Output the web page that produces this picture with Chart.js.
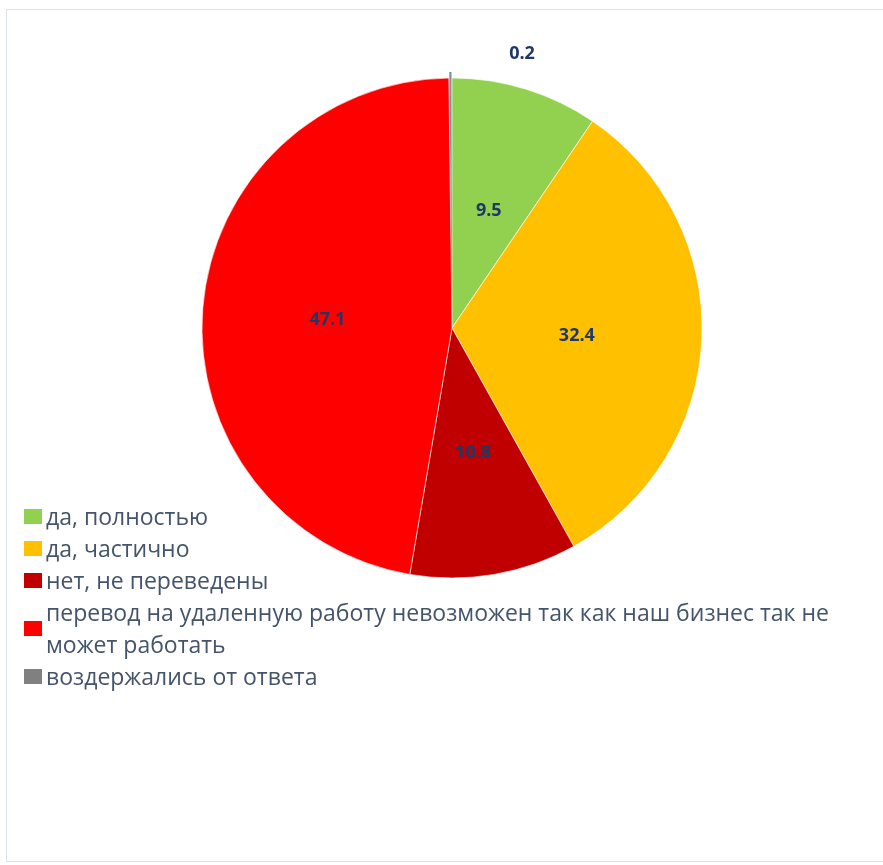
<!DOCTYPE html>
<html>
<head>
<meta charset="utf-8">
<script src="https://cdn.jsdelivr.net/npm/chart.js@4.4.1/dist/chart.umd.min.js"></script>
<style>
  html, body { margin: 0; padding: 0; background: #fff; }
  body { width: 883px; height: 865px; position: relative; overflow: hidden; }
  #frame {
    position: absolute; left: 6px; top: 9px; width: 890px; height: 853px;
    border: 1px solid #dbe2ea; box-sizing: border-box;
  }
  #chart-wrap { position: absolute; left: 0; top: 0; width: 883px; height: 865px; }
  #legend {
    position: absolute; left: 24px; top: 500px; width: 825px;
    font-family: "Open Sans", sans-serif; font-size: 23px; color: #44546a;
  }
  .legend-item { display: flex; align-items: center; margin: 0; line-height: 32px; }
  .legend-box { flex: 0 0 18px; height: 15px; margin-right: 4px; }
  .legend-text { flex: 1 1 auto; }
</style>
</head>
<body>
<div id="frame"></div>
<div id="chart-wrap"><canvas id="chart-pie" width="883" height="865"></canvas></div>
<div id="legend"></div>
<script>
const categories = [
  "да, полностью",
  "да, частично",
  "нет, не переведены",
  "перевод на удаленную работу невозможен так как наш бизнес так не может работать",
  "воздержались от ответа",
];
const shares = [9.5, 32.4, 10.8, 47.1, 0.2];
const sliceColors = ["#92d050", "#ffc000", "#c00000", "#ff0000", "#7f8fa6"];
const legendColors = ["#92d050", "#ffc000", "#c00000", "#ff0000", "#808080"];

const pieCanvas = document.querySelector("#chart-pie");
const legendBox = document.querySelector("#legend");

// value labels, small slice goes outside
const valueLabels = {
  id: "valueLabels",
  afterDatasetsDraw(chart) {
    const ctx = chart.ctx;
    const meta = chart.getDatasetMeta(0);
    ctx.save();
    ctx.font = "bold 18px 'Open Sans', sans-serif";
    ctx.fillStyle = "#1f3864";
    ctx.textAlign = "center";
    ctx.textBaseline = "middle";
    meta.data.forEach((arc, i) => {
      const value = shares[i];
      if (value < 1) {
        ctx.fillText(String(value), arc.x + 70, arc.y - arc.outerRadius - 24);
      } else {
        const p = arc.getCenterPoint();
        ctx.fillText(String(value), p.x, p.y + 2);
      }
    });
    ctx.restore();
  },
};

const chartShares = new Chart(pieCanvas, {
  type: "pie",
  data: {
    labels: categories,
    datasets: [
      {
        data: shares,
        backgroundColor: sliceColors,
        borderColor: "#ffffff",
        borderWidth: [0.6, 0.6, 0.6, 0.6, 0],
        offset: [0, 0, 0, 0, 12],
      },
    ],
  },
  options: {
    responsive: false,
    animation: false,
    radius: 250,
    layout: {
      padding: { left: 21, right: 0, top: 0, bottom: 209 },
    },
    plugins: {
      legend: { display: false },
      tooltip: { enabled: false },
    },
  },
  plugins: [valueLabels],
});

categories.forEach((name, i) => {
  legendBox.insertAdjacentHTML(
    "beforeend",
    `<div class="legend-item"><span class="legend-box" style="background:${legendColors[i]}"></span><span class="legend-text">${name}</span></div>`
  );
});
</script>
</body>
</html>
